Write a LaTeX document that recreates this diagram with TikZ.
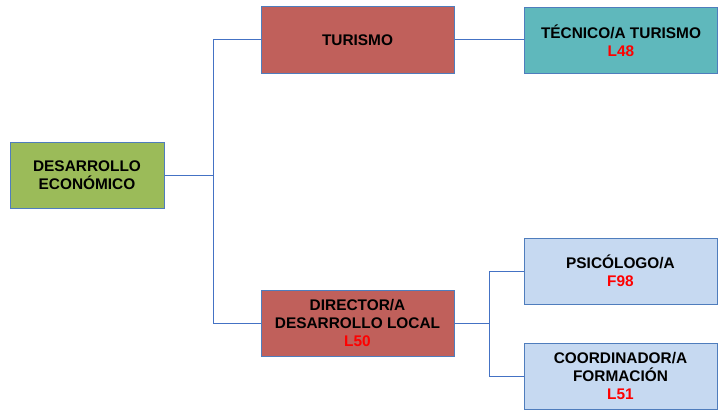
\documentclass[tikz,border=0pt]{standalone}
\usepackage{fontspec}
\setmainfont{Liberation Sans}
\definecolor{boxline}{HTML}{4F7DBD}
\definecolor{connline}{HTML}{4472C4}
\definecolor{fgreen}{HTML}{9BBB59}
\definecolor{fred}{HTML}{C0605B}
\definecolor{fteal}{HTML}{5FB8BC}
\definecolor{fblue}{HTML}{C6D9F1}
\definecolor{code}{HTML}{FF0000}
\begin{document}
\begin{tikzpicture}[x=1pt,y=-1pt,
  box/.style={draw=boxline, line width=1pt, minimum width=193pt, minimum height=66pt,
    align=center, inner sep=0pt, font=\fontsize{15.4}{18}\selectfont\bfseries},
  conn/.style={draw=connline, line width=1pt}]
\useasboundingbox (0,0) rectangle (719,412);
\node[box, fill=fgreen, minimum width=154pt] (de) at (87,175) {DESARROLLO\\ECONÓMICO};
\node[box, fill=fred] (tur) at (357.5,40) {TURISMO};
\node[box, fill=fteal, minimum height=65pt] (tec) at (621,40.5) {TÉCNICO/A TURISMO\\\textcolor{code}{L48}};
\node[box, fill=fred] (dir) at (357.5,323) {DIRECTOR/A\\DESARROLLO LOCAL\\\textcolor{code}{L50}};
\node[box, fill=fblue] (psi) at (620.5,271) {PSICÓLOGO/A\\\textcolor{code}{F98}};
\node[box, fill=fblue] (coo) at (620.5,376) {COORDINADOR/A\\FORMACIÓN\\\textcolor{code}{L51}};
\coordinate (j1) at (213,175);
\coordinate (j2) at (489,323);
\draw[conn] (de.east) -- (j1);
\draw[conn] (j1) |- (tur.west);
\draw[conn] (j1) |- (dir.west);
\draw[conn] (tur.east) -- (tec.west |- tur.east);
\draw[conn] (dir.east) -- (j2);
\draw[conn] (j2) |- (psi.west);
\draw[conn] (j2) |- (coo.west);
\end{tikzpicture}
\end{document}
